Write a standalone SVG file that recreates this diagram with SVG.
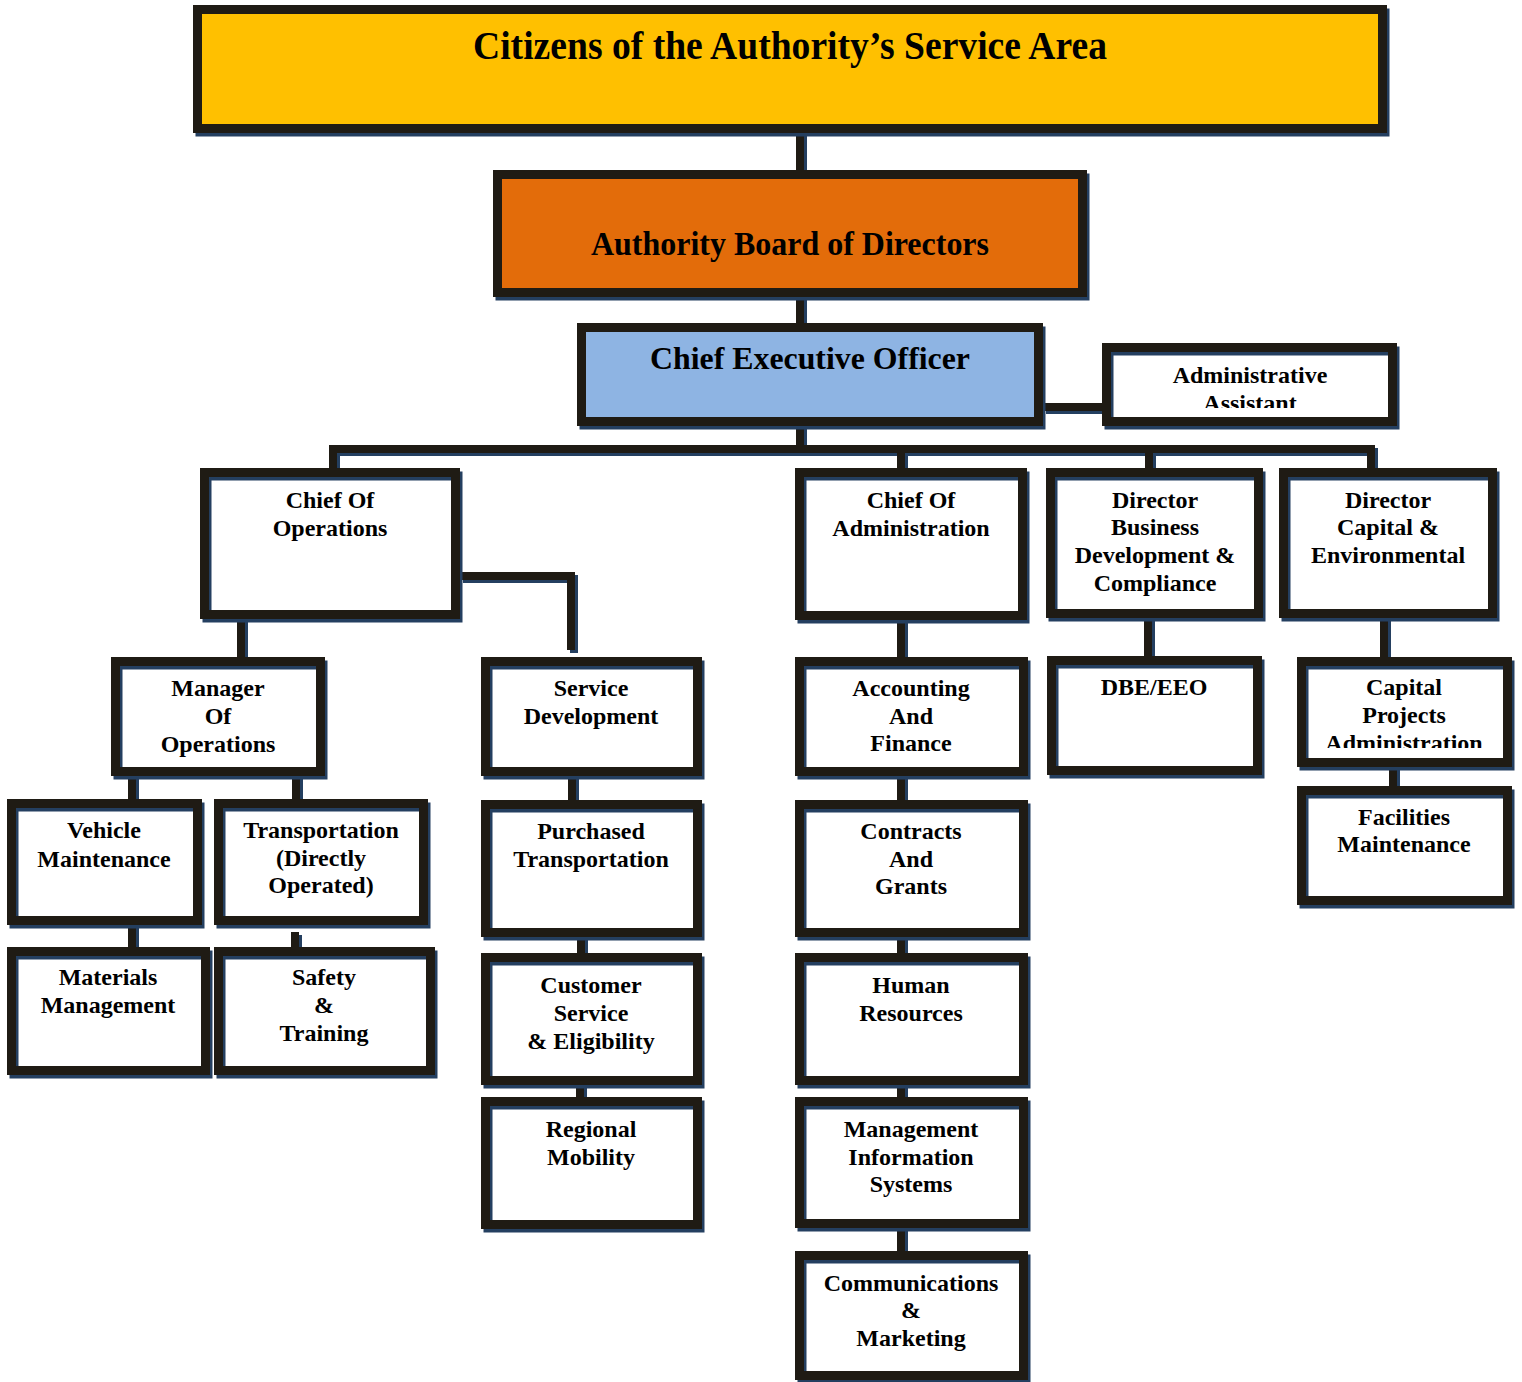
<svg xmlns="http://www.w3.org/2000/svg" width="1522" height="1382" viewBox="0 0 1522 1382">
<style>
.sh{fill:none;stroke:#243F60;stroke-width:9}
.fr{fill:none;stroke:#1F1B14;stroke-width:9}
.c{fill:none;stroke:#1F1B14;stroke-width:8}
.cs{fill:none;stroke:#243F60;stroke-width:8}
.t{font-family:"Liberation Serif","Times New Roman",serif;font-weight:bold;font-size:24px;text-anchor:middle;fill:#000}
.big{font-family:"Liberation Serif","Times New Roman",serif;font-weight:bold;text-anchor:middle;fill:#000}
</style>
<defs>
<clipPath id="clipAdmin"><rect x="1110" y="350" width="280" height="58"/></clipPath>
<clipPath id="clipCpa"><rect x="1305" y="665" width="200" height="83"/></clipPath>
</defs>
<rect width="1522" height="1382" fill="#fff"/>
<g id="connectors">
<g class="cs" transform="translate(3,3)">
<path d="M800,133V170M800,297V323M800,426V449M1043,407H1102M333,468V449H1371V468M901,449V468M1149,449V468M241,619V657M460,576H571V650M132,776V799M296,776V799M132,925V947M295,932V947M572,776V800M581,937V953M580,1085V1097M901,620V657M901,776V800M901,937V953M901,1085V1097M901,1228V1251M1148,618V656M1384,618V657M1393,767V786"/>
</g>
<path class="c" d="M800,133V170M800,297V323M800,426V449M1043,407H1102M333,468V449H1371V468M901,449V468M1149,449V468M241,619V657M460,576H571V650M132,776V799M296,776V799M132,925V947M295,932V947M572,776V800M581,937V953M580,1085V1097M901,620V657M901,776V800M901,937V953M901,1085V1097M901,1228V1251M1148,618V656M1384,618V657M1393,767V786"/>
</g>
<g id="n-citizens">
<rect class="sh" x="200" y="13" width="1185" height="119"/>
<rect x="193" y="5" width="1194" height="128" fill="#FFC000"/>
<rect class="fr" x="197.5" y="9.5" width="1185" height="119"/>
<text class="big" x="790" y="59" font-size="39" textLength="634" lengthAdjust="spacingAndGlyphs">Citizens of the Authority’s Service Area</text>
</g>
<g id="n-board">
<rect class="sh" x="500" y="178" width="585" height="118"/>
<rect x="493" y="170" width="594" height="127" fill="#E36C0A"/>
<rect class="fr" x="497.5" y="174.5" width="585" height="118"/>
<text class="big" x="790" y="255" font-size="34" textLength="398" lengthAdjust="spacingAndGlyphs">Authority Board of Directors</text>
</g>
<g id="n-ceo">
<rect class="sh" x="584" y="331" width="457" height="94"/>
<rect x="577" y="323" width="466" height="103" fill="#8EB4E3"/>
<rect class="fr" x="581.5" y="327.5" width="457" height="94"/>
<text class="big" x="810" y="369" font-size="31" textLength="320" lengthAdjust="spacingAndGlyphs">Chief Executive Officer</text>
</g>
<g id="n-admin">
<rect x="1102" y="343" width="295" height="83" fill="#fff"/>
<rect class="sh" x="1109" y="351" width="286" height="74"/>
<rect class="fr" x="1106.5" y="347.5" width="286" height="74"/>
<g clip-path="url(#clipAdmin)"><text class="t" x="1250" y="383">Administrative</text><text class="t" x="1250" y="411">Assistant</text></g>
</g>
<g id="n-coo">
<rect x="200" y="468" width="260" height="151" fill="#fff"/>
<rect class="sh" x="207" y="476" width="251" height="142"/>
<rect class="fr" x="204.5" y="472.5" width="251" height="142"/>
<text class="t" x="330" y="508">Chief Of</text><text class="t" x="330" y="536">Operations</text>
</g>
<g id="n-coa">
<rect x="795" y="468" width="232" height="152" fill="#fff"/>
<rect class="sh" x="802" y="476" width="223" height="143"/>
<rect class="fr" x="799.5" y="472.5" width="223" height="143"/>
<text class="t" x="911" y="508">Chief Of</text><text class="t" x="911" y="536">Administration</text>
</g>
<g id="n-dbd">
<rect x="1046" y="468" width="217" height="150" fill="#fff"/>
<rect class="sh" x="1053" y="476" width="208" height="141"/>
<rect class="fr" x="1050.5" y="472.5" width="208" height="141"/>
<text class="t" x="1155" y="508">Director</text><text class="t" x="1155" y="535">Business</text><text class="t" x="1155" y="563">Development &amp;</text><text class="t" x="1155" y="591">Compliance</text>
</g>
<g id="n-dce">
<rect x="1279" y="468" width="218" height="150" fill="#fff"/>
<rect class="sh" x="1286" y="476" width="209" height="141"/>
<rect class="fr" x="1283.5" y="472.5" width="209" height="141"/>
<text class="t" x="1388" y="508">Director</text><text class="t" x="1388" y="535">Capital &amp;</text><text class="t" x="1388" y="563">Environmental</text>
</g>
<g id="n-mgr">
<rect x="111" y="657" width="214" height="119" fill="#fff"/>
<rect class="sh" x="118" y="665" width="205" height="110"/>
<rect class="fr" x="115.5" y="661.5" width="205" height="110"/>
<text class="t" x="218" y="696">Manager</text><text class="t" x="218" y="724">Of</text><text class="t" x="218" y="752">Operations</text>
</g>
<g id="n-sd">
<rect x="481" y="657" width="221" height="119" fill="#fff"/>
<rect class="sh" x="488" y="665" width="212" height="110"/>
<rect class="fr" x="485.5" y="661.5" width="212" height="110"/>
<text class="t" x="591" y="696">Service</text><text class="t" x="591" y="724">Development</text>
</g>
<g id="n-acc">
<rect x="795" y="657" width="233" height="119" fill="#fff"/>
<rect class="sh" x="802" y="665" width="224" height="110"/>
<rect class="fr" x="799.5" y="661.5" width="224" height="110"/>
<text class="t" x="911" y="696">Accounting</text><text class="t" x="911" y="724">And</text><text class="t" x="911" y="751">Finance</text>
</g>
<g id="n-dbe">
<rect x="1047" y="656" width="215" height="119" fill="#fff"/>
<rect class="sh" x="1054" y="664" width="206" height="110"/>
<rect class="fr" x="1051.5" y="660.5" width="206" height="110"/>
<text class="t" x="1154" y="695">DBE/EEO</text>
</g>
<g id="n-cpa">
<rect x="1297" y="657" width="215" height="110" fill="#fff"/>
<rect class="sh" x="1304" y="665" width="206" height="101"/>
<rect class="fr" x="1301.5" y="661.5" width="206" height="101"/>
<g clip-path="url(#clipCpa)"><text class="t" x="1404" y="695">Capital</text><text class="t" x="1404" y="723">Projects</text><text class="t" x="1404" y="751">Administration</text></g>
</g>
<g id="n-fac">
<rect x="1297" y="786" width="215" height="119" fill="#fff"/>
<rect class="sh" x="1304" y="794" width="206" height="110"/>
<rect class="fr" x="1301.5" y="790.5" width="206" height="110"/>
<text class="t" x="1404" y="825">Facilities</text><text class="t" x="1404" y="852">Maintenance</text>
</g>
<g id="n-veh">
<rect x="7" y="799" width="195" height="126" fill="#fff"/>
<rect class="sh" x="14" y="807" width="186" height="117"/>
<rect class="fr" x="11.5" y="803.5" width="186" height="117"/>
<text class="t" x="104" y="838">Vehicle</text><text class="t" x="104" y="867">Maintenance</text>
</g>
<g id="n-trans">
<rect x="214" y="799" width="214" height="126" fill="#fff"/>
<rect class="sh" x="221" y="807" width="205" height="117"/>
<rect class="fr" x="218.5" y="803.5" width="205" height="117"/>
<text class="t" x="321" y="838">Transportation</text><text class="t" x="321" y="866">(Directly</text><text class="t" x="321" y="893">Operated)</text>
</g>
<g id="n-pt">
<rect x="481" y="800" width="221" height="137" fill="#fff"/>
<rect class="sh" x="488" y="808" width="212" height="128"/>
<rect class="fr" x="485.5" y="804.5" width="212" height="128"/>
<text class="t" x="591" y="839">Purchased</text><text class="t" x="591" y="867">Transportation</text>
</g>
<g id="n-cg">
<rect x="795" y="800" width="233" height="137" fill="#fff"/>
<rect class="sh" x="802" y="808" width="224" height="128"/>
<rect class="fr" x="799.5" y="804.5" width="224" height="128"/>
<text class="t" x="911" y="839">Contracts</text><text class="t" x="911" y="867">And</text><text class="t" x="911" y="894">Grants</text>
</g>
<g id="n-mat">
<rect x="7" y="947" width="203" height="128" fill="#fff"/>
<rect class="sh" x="14" y="955" width="194" height="119"/>
<rect class="fr" x="11.5" y="951.5" width="194" height="119"/>
<text class="t" x="108" y="985">Materials</text><text class="t" x="108" y="1013">Management</text>
</g>
<g id="n-saf">
<rect x="214" y="947" width="221" height="128" fill="#fff"/>
<rect class="sh" x="221" y="955" width="212" height="119"/>
<rect class="fr" x="218.5" y="951.5" width="212" height="119"/>
<text class="t" x="324" y="985">Safety</text><text class="t" x="324" y="1013">&amp;</text><text class="t" x="324" y="1041">Training</text>
</g>
<g id="n-cs">
<rect x="481" y="953" width="221" height="132" fill="#fff"/>
<rect class="sh" x="488" y="961" width="212" height="123"/>
<rect class="fr" x="485.5" y="957.5" width="212" height="123"/>
<text class="t" x="591" y="993">Customer</text><text class="t" x="591" y="1021">Service</text><text class="t" x="591" y="1049">&amp; Eligibility</text>
</g>
<g id="n-hr">
<rect x="795" y="953" width="233" height="132" fill="#fff"/>
<rect class="sh" x="802" y="961" width="224" height="123"/>
<rect class="fr" x="799.5" y="957.5" width="224" height="123"/>
<text class="t" x="911" y="993">Human</text><text class="t" x="911" y="1021">Resources</text>
</g>
<g id="n-rm">
<rect x="481" y="1097" width="221" height="132" fill="#fff"/>
<rect class="sh" x="488" y="1105" width="212" height="123"/>
<rect class="fr" x="485.5" y="1101.5" width="212" height="123"/>
<text class="t" x="591" y="1137">Regional</text><text class="t" x="591" y="1165">Mobility</text>
</g>
<g id="n-mis">
<rect x="795" y="1097" width="233" height="131" fill="#fff"/>
<rect class="sh" x="802" y="1105" width="224" height="122"/>
<rect class="fr" x="799.5" y="1101.5" width="224" height="122"/>
<text class="t" x="911" y="1137">Management</text><text class="t" x="911" y="1165">Information</text><text class="t" x="911" y="1192">Systems</text>
</g>
<g id="n-com">
<rect x="795" y="1251" width="233" height="129" fill="#fff"/>
<rect class="sh" x="802" y="1259" width="224" height="120"/>
<rect class="fr" x="799.5" y="1255.5" width="224" height="120"/>
<text class="t" x="911" y="1291">Communications</text><text class="t" x="911" y="1318">&amp;</text><text class="t" x="911" y="1346">Marketing</text>
</g>
</svg>
